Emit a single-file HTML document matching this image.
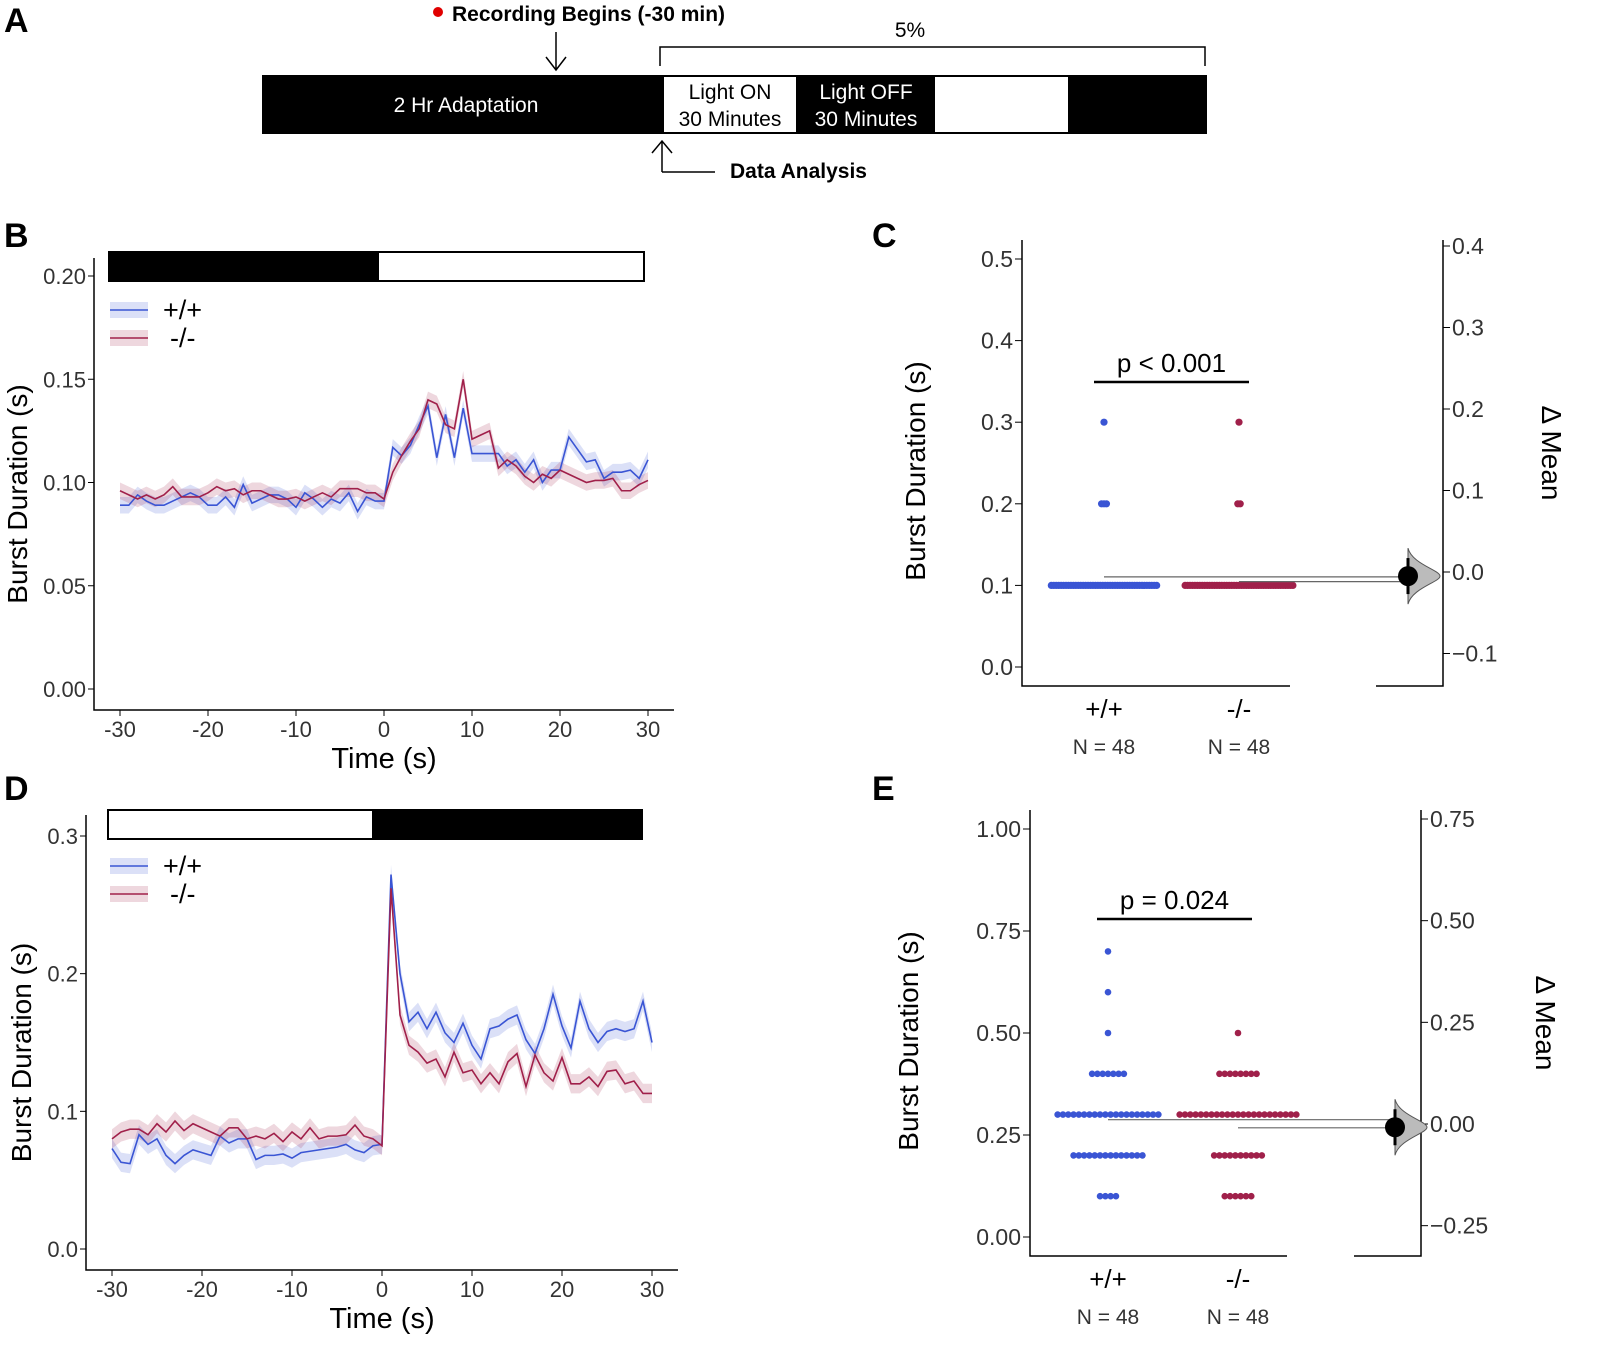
<!DOCTYPE html>
<html><head><meta charset="utf-8"><style>body{margin:0;background:#fff}svg{display:block;font-family:"Liberation Sans",Arial,sans-serif}</style></head>
<body>
<svg id="fig" width="1600" height="1364" viewBox="0 0 1600 1364" xmlns="http://www.w3.org/2000/svg">
<g>
<text x="4" y="32" font-size="34" font-weight="bold">A</text>
<circle cx="438" cy="12" r="5" fill="#e00000"/>
<text x="452" y="21" font-size="21" font-weight="bold">Recording Begins (-30 min)</text>
<path d="M556 32V70M546 57L556 70L566 57" stroke="#000" fill="none" stroke-width="1.5"/>
<text x="910" y="37" font-size="21" text-anchor="middle">5%</text>
<path d="M660 66V47H1205V66" stroke="#000" fill="none" stroke-width="1.5"/>
<rect x="262" y="75" width="945" height="59" fill="#000"/>
<rect x="664" y="77" width="132" height="55" fill="#fff"/>
<rect x="935" y="77" width="133" height="55" fill="#fff"/>
<text x="466" y="112" font-size="21" fill="#fff" text-anchor="middle">2 Hr Adaptation</text>
<text x="730" y="99" font-size="21" text-anchor="middle">Light ON</text>
<text x="730" y="126" font-size="21" text-anchor="middle">30 Minutes</text>
<text x="866" y="99" font-size="21" fill="#fff" text-anchor="middle">Light OFF</text>
<text x="866" y="126" font-size="21" fill="#fff" text-anchor="middle">30 Minutes</text>
<path d="M662 172V141M652 153L662 141L672 153M662 172H715" stroke="#000" fill="none" stroke-width="1.5"/>
<text x="730" y="178" font-size="21" font-weight="bold">Data Analysis</text>
</g>
<g id="root"></g>
</svg>
<script>
const xTicks=[-30,-20,-10,0,10,20,30];
const bTicks=[0,0.05,0.10,0.15,0.20];
const bBlue=[0.089,0.089,0.094,0.091,0.089,0.089,0.091,0.093,0.095,0.093,0.089,0.089,0.093,0.088,0.099,0.090,0.092,0.094,0.094,0.092,0.088,0.095,0.092,0.088,0.092,0.090,0.095,0.086,0.093,0.091,0.091,0.117,0.113,0.118,0.128,0.137,0.112,0.133,0.112,0.136,0.114,0.114,0.114,0.114,0.108,0.111,0.105,0.111,0.100,0.106,0.106,0.122,0.116,0.110,0.111,0.102,0.105,0.105,0.106,0.102,0.111];
const bRed=[0.096,0.094,0.092,0.094,0.092,0.094,0.098,0.093,0.093,0.093,0.095,0.098,0.096,0.097,0.094,0.096,0.096,0.094,0.092,0.092,0.093,0.091,0.093,0.095,0.093,0.097,0.097,0.097,0.095,0.095,0.092,0.105,0.113,0.120,0.126,0.140,0.138,0.128,0.126,0.150,0.121,0.123,0.125,0.107,0.111,0.108,0.103,0.100,0.104,0.102,0.106,0.104,0.102,0.100,0.101,0.101,0.102,0.096,0.096,0.099,0.101];
const dTicks=[0,0.1,0.2,0.3];
const dBlue=[0.073,0.063,0.062,0.083,0.076,0.080,0.068,0.062,0.068,0.072,0.070,0.068,0.082,0.077,0.080,0.080,0.065,0.068,0.068,0.069,0.066,0.070,0.071,0.072,0.073,0.074,0.076,0.072,0.070,0.075,0.076,0.272,0.200,0.165,0.172,0.160,0.172,0.157,0.150,0.164,0.148,0.138,0.160,0.162,0.167,0.170,0.152,0.142,0.160,0.185,0.162,0.146,0.180,0.160,0.150,0.158,0.160,0.158,0.160,0.180,0.150];
const dRed=[0.080,0.085,0.087,0.087,0.083,0.091,0.085,0.093,0.086,0.091,0.088,0.085,0.082,0.088,0.088,0.080,0.082,0.080,0.084,0.078,0.085,0.080,0.088,0.080,0.082,0.082,0.083,0.090,0.082,0.080,0.075,0.262,0.170,0.148,0.143,0.135,0.138,0.125,0.143,0.128,0.130,0.120,0.128,0.120,0.136,0.142,0.118,0.141,0.128,0.122,0.139,0.120,0.120,0.125,0.118,0.129,0.130,0.120,0.122,0.113,0.113];
const cLeftTicks=[0,0.1,0.2,0.3,0.4,0.5];
const cRightTicks=[-0.1,0,0.1,0.2,0.3,0.4];
const cVals=[0.1,0.2,0.3];
const cBlueCounts=[44,3,1];
const cRedCounts=[45,2,1];
const cDelta=-0.005;
const eLeftTicks=[0,0.25,0.5,0.75,1.0];
const eRightTicks=[-0.25,0,0.25,0.5,0.75];
const eVals=[0.1,0.2,0.3,0.4,0.5,0.6,0.7];
const eBlueCounts=[4,14,20,7,1,1,1];
const eRedCounts=[6,10,23,8,1,0,0];
const eDelta=-0.008;
const fmt2=v=>v.toFixed(2);

const NS="http://www.w3.org/2000/svg";
const root=document.getElementById('root');
function el(tag,attrs,parent,txt){const e=document.createElementNS(NS,tag);for(const k in attrs)e.setAttribute(k,attrs[k]);if(txt!==undefined)e.textContent=txt;(parent||root).appendChild(e);return e;}
const BLUE="#3a55d4",RED="#a0204a";

function linePanel(o){
  const g=el('g',{});
  
  
  const X=v=>o.x0+(v+30)/60*(o.x1-o.x0);
  const Y=v=>o.y0-(v/o.ymax)*(o.y0-o.yTop);
  const lab=el('text',{x:4,y:o.labelY,'font-size':34,'font-weight':'bold'},g,o.letter);
  
  // bar
  const b1=el('rect',{x:o.barX0,y:o.barY,width:o.barMid-o.barX0,height:29,fill:o.firstBlack?'#000':'#fff',stroke:'#000','stroke-width':2},g);
  
  const b2=el('rect',{x:o.barMid,y:o.barY,width:o.barX1-o.barMid,height:29,fill:o.firstBlack?'#fff':'#000',stroke:'#000','stroke-width':2},g);
  
  // axes
  const ax=el('path',{d:`M${o.axX} ${o.axTop}V${o.axB}H${o.axR}`,stroke:'#000','stroke-width':1.5,fill:'none'},g);
  
  o.yTicks.forEach(t=>{
    const tk=el('line',{x1:o.axX-6,x2:o.axX,y1:Y(t),y2:Y(t),stroke:'#000'},g);
    
    const tl=el('text',{x:o.axX-8,y:Y(t)+8,'font-size':22,'text-anchor':'end',fill:'#333'},g,o.yfmt(t));
    
  });
  xTicks.forEach(t=>{
    const tk=el('line',{x1:X(t),x2:X(t),y1:o.axB,y2:o.axB+6,stroke:'#000'},g);
    
    const tl=el('text',{x:X(t),y:o.axB+27,'font-size':22,'text-anchor':'middle',fill:'#333'},g,String(t));
    
  });
  const xt=el('text',{x:(X(-30)+X(30))/2,y:o.axB+58,'font-size':29,'text-anchor':'middle'},g,'Time (s)');
  
  const yt=el('text',{x:0,y:0,'font-size':28,'text-anchor':'middle',transform:`translate(${o.ytX},${(o.axTop+o.axB)/2+10}) rotate(-90)`},g,'Burst Duration (s)');
  
  [[o.blue,BLUE,'#3a55d4','wildtype'],[o.red,RED,'#a0204a','knockout']].forEach(([arr,c,f,nm])=>{
    const up=arr.map((v,i)=>`${X(i-30)},${Y(v+o.se)}`);
    const dn=arr.map((v,i)=>`${X(i-30)},${Y(v-o.se)}`).reverse();
    const band=el('polygon',{points:up.concat(dn).join(' '),fill:f,opacity:0.18},g);
    
  });
  [[o.blue,BLUE,'wildtype'],[o.red,RED,'knockout']].forEach(([arr,c,nm])=>{
    const ln=el('polyline',{points:arr.map((v,i)=>`${X(i-30)},${Y(v)}`).join(' '),fill:'none',stroke:c,'stroke-width':1.6},g);
    
  });
  // legend
  [['+/+','#3a55d4',0],['-/-','#a0204a',1]].forEach(([t,c,i])=>{
    const y=o.legY+i*28;
    const r=el('rect',{x:110,y:y-8,width:38,height:16,fill:c,opacity:0.18},g);
    
    const l=el('line',{x1:110,x2:148,y1:y,y2:y,stroke:c,'stroke-width':1.6},g);
    
    const tx=el('text',{x:i?170:163,y:y+9,'font-size':27},g,t);
    
  });
}
linePanel({name:'panel-b',letter:'B',labelY:247,x0:120,x1:648,y0:689,yTop:276,ymax:0.20,axX:94,axTop:258,axB:710,axR:674,
  yTicks:bTicks,yfmt:fmt2,blue:bBlue,red:bRed,se:0.004,firstBlack:true,barX0:109,barMid:378,barX1:644,barY:252,legY:310,ytX:27});
linePanel({name:'panel-d',letter:'D',labelY:800,x0:112,x1:652,y0:1249,yTop:836,ymax:0.3,axX:86,axTop:815,axB:1270,axR:678,
  yTicks:dTicks,yfmt:v=>v.toFixed(1),blue:dBlue,red:dRed,se:0.007,firstBlack:false,barX0:108,barMid:373,barX1:642,barY:810,legY:866,ytX:31});

function dotPanel(o){
  const g=el('g',{});
  
  
  const Y=v=>o.y0-v/o.lmax*(o.y0-o.yTop);
  const YR=v=>o.r0-v/o.rmax*(o.r0-o.rTop);
  const lab=el('text',{x:872,y:o.labelY,'font-size':34,'font-weight':'bold'},g,o.letter);
  
  const ax=el('path',{d:`M${o.axX} ${o.axTop}V${o.axB}H${o.axR}`,stroke:'#000','stroke-width':1.5,fill:'none'},g);
  
  const rax=el('path',{d:`M${o.rX} ${o.axTop}V${o.axB}H${o.rX-67}`,stroke:'#000','stroke-width':1.5,fill:'none'},g);
  
  o.lTicks.forEach(t=>{
    const tk=el('line',{x1:o.axX-7,x2:o.axX,y1:Y(t),y2:Y(t),stroke:'#000'},g);
    
    const tl=el('text',{x:o.axX-9,y:Y(t)+8,'font-size':23,'text-anchor':'end',fill:'#333'},g,o.fmt(t));
    
  });
  o.rTicks.forEach(t=>{
    const tk=el('line',{x1:o.rX,x2:o.rX+7,y1:YR(t),y2:YR(t),stroke:'#000'},g);
    
    const tl=el('text',{x:o.rX+9,y:YR(t)+8,'font-size':23,fill:'#333'},g,(t<0?'\u2212':'')+o.fmt(Math.abs(t)));
    
  });
  const yt=el('text',{x:0,y:0,'font-size':28,'text-anchor':'middle',transform:`translate(${o.ytX},${(o.axTop+o.axB)/2+8}) rotate(-90)`},g,'Burst Duration (s)');
  
  const rt=el('text',{x:0,y:0,'font-size':28,'text-anchor':'middle',transform:`translate(${o.rtX},${(o.axTop+o.axB)/2-10}) rotate(90)`},g,'\u0394 Mean');
  
  [['+/+',o.cx[0]],['-/-',o.cx[1]]].forEach(([t,x])=>{
    const a=el('text',{x:x,y:o.axB+32,'font-size':26,'text-anchor':'middle'},g,t);
    
    const n=el('text',{x:x,y:o.axB+68,'font-size':21,'text-anchor':'middle',fill:'#333'},g,'N = 48');
    
  });
  [[o.blueCounts,BLUE,0],[o.redCounts,RED,1]].forEach(([cnts,c,gi])=>{
    cnts.forEach((n,vi)=>{
      for(let k=0;k<n;k++){
        const x=o.cx[gi]+(k-(n-1)/2)*o.sp;
        const d=el('circle',{cx:x,cy:Y(o.vals[vi]),r:o.dr,fill:c},g);
        
      }
    });
  });
  // means
  const mean=(cnts)=>cnts.reduce((s,n,i)=>s+n*o.vals[i],0)/cnts.reduce((s,n)=>s+n,0);
  const mb=mean(o.blueCounts),mr=mean(o.redCounts);
  const l1=el('line',{x1:o.cx[0],x2:o.distX,y1:Y(mb),y2:Y(mb),stroke:'#666','stroke-width':1.2},g);
  
  const l2=el('line',{x1:o.cx[1],x2:o.distX,y1:Y(mr)+3,y2:Y(mr)+3,stroke:'#666','stroke-width':1.2},g);
  
  const yc=YR(o.delta);
  const dist=el('path',{d:`M${o.distX} ${yc-28}C${o.distX+4} ${yc-12},${o.distX+32} ${yc-6},${o.distX+32} ${yc}C${o.distX+32} ${yc+6},${o.distX+4} ${yc+12},${o.distX} ${yc+28}Z`,fill:'#bbb',stroke:'#555','stroke-width':1},g);
  
  const ci=el('line',{x1:o.distX,x2:o.distX,y1:yc-18,y2:yc+18,stroke:'#000','stroke-width':3},g);
  
  const dot=el('circle',{cx:o.distX,cy:yc,r:10,fill:'#000'},g);
  
  const pl=el('line',{x1:o.pX0,x2:o.pX1,y1:o.pY,y2:o.pY,stroke:'#000','stroke-width':2.5},g);
  
  const pt=el('text',{x:(o.pX0+o.pX1)/2,y:o.pY-10,'font-size':26,'text-anchor':'middle'},g,o.ptext);
  
}
dotPanel({name:'panel-c',letter:'C',labelY:247,y0:667,yTop:259,lmax:0.5,r0:572,rTop:246,rmax:0.4,axX:1022,axTop:240,axB:686,axR:1290,rX:1443,
  lTicks:cLeftTicks,rTicks:cRightTicks,fmt:v=>v.toFixed(1),vals:cVals,blueCounts:cBlueCounts,redCounts:cRedCounts,cx:[1104,1239],sp:2.45,dr:3.6,
  delta:cDelta,distX:1408,pX0:1094,pX1:1249,pY:382,ptext:'p < 0.001',ytX:925,rtX:1542});
dotPanel({name:'panel-e',letter:'E',labelY:800,y0:1237,yTop:829,lmax:1.0,r0:1124,rTop:819,rmax:0.75,axX:1030,axTop:810,axB:1256,axR:1287,rX:1421,
  lTicks:eLeftTicks,rTicks:eRightTicks,fmt:fmt2,vals:eVals,blueCounts:eBlueCounts,redCounts:eRedCounts,cx:[1108,1238],sp:5.3,dr:3.3,
  delta:eDelta,distX:1395,pX0:1097,pX1:1252,pY:919,ptext:'p = 0.024',ytX:918,rtX:1536});
</script>
</body></html>
